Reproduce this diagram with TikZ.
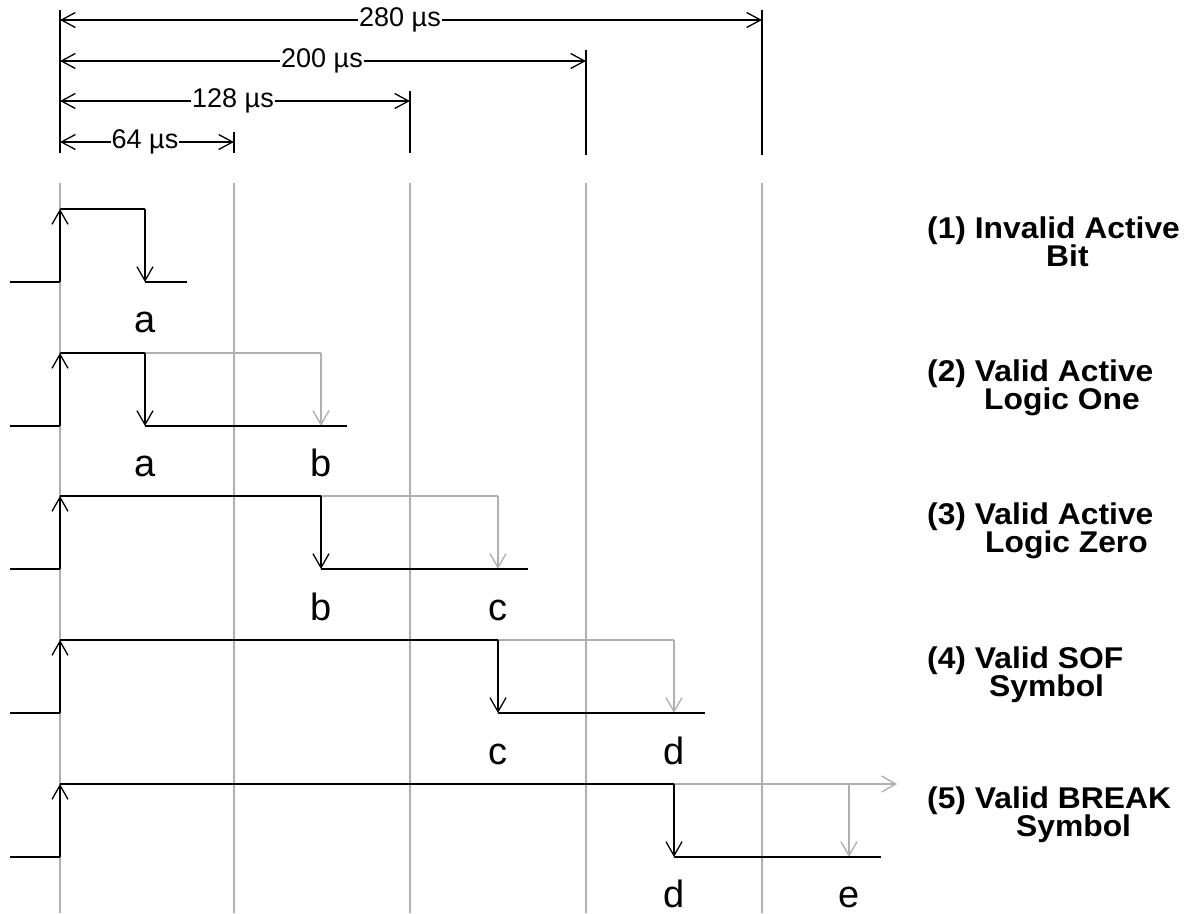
\documentclass[tikz,border=0pt]{standalone}
\usepackage{fontspec}
\usepackage{graphicx}
\setmainfont{Liberation Sans}
\usetikzlibrary{arrows.meta}
\definecolor{gridgray}{RGB}{176,176,176}
\newcommand{\captxt}[1]{\scalebox{1.06}[1]{#1}}
\newcommand{\indentby}[1]{\hbox to #1{}}
\tikzset{
  wire/.style={line width=1.3pt, black},
  ghost/.style={line width=1.4pt, gridgray},
  tip/.style={-{Straight Barb[length=14pt,width=16pt,line width=1.3pt]}},
  gtip/.style={-{Straight Barb[length=14pt,width=16pt,line width=1.4pt]}},
  dimline/.style={line width=1.3pt, black, {Straight Barb[length=14pt,width=15pt,line width=1.3pt]}-{Straight Barb[length=14pt,width=15pt,line width=1.3pt]}},
  dimtext/.style={fill=white, inner sep=1pt, font=\fontsize{27}{30}\selectfont},
  letter/.style={anchor=base, inner sep=0pt, font=\fontsize{38}{40}\selectfont},
  caption/.style={anchor=north west, inner sep=0pt, align=left,
    font=\fontsize{30}{28}\selectfont\bfseries},
}
\begin{document}
\begin{tikzpicture}[x=1pt,y=-1pt]
\useasboundingbox (0,0) rectangle (1194,913);
% grid lines
\foreach \gx in {60,234,410,586,762}{
  \draw[ghost] (\gx,183) -- (\gx,913);
}
% ticks
\draw[wire] (60,10) -- (60,153);
\draw[wire] (234,132) -- (234,153);
\draw[wire] (410,91) -- (410,153);
\draw[wire] (586,50) -- (586,155);
\draw[wire] (762,10) -- (762,155);
% dimensions
\coordinate (d0a) at (60,20);  \coordinate (d0b) at (762,20);
\coordinate (d1a) at (60,61);  \coordinate (d1b) at (586,61);
\coordinate (d2a) at (60,101); \coordinate (d2b) at (410,101);
\coordinate (d3a) at (60,142); \coordinate (d3b) at (234,142);
\draw[dimline] (d0a) -- (d0b);
\draw[dimline] (d1a) -- (d1b);
\draw[dimline] (d2a) -- (d2b);
\draw[dimline] (d3a) -- (d3b);
\node[dimtext] (t280) at (400,20) {280 µs};
\node[dimtext] (t200) at (322,61) {200 µs};
\node[dimtext] (t128) at (233,101) {128 µs};
\node[dimtext] (t64)  at (145,142) {64 µs};
% waveform 1
\def\H{209}\def\L{282}
\draw[wire] (10,\L) -- (60,\L);
\draw[wire,tip] (60,\L) -- (60,\H);
\draw[wire] (60,\H) -- (145,\H);
\draw[wire,tip] (145,\H) -- (145,\L);
\draw[wire] (145,\L) -- (187,\L);
\node[letter] (la1) at (145,332) {a};
% waveform 2
\def\H{353}\def\L{426}
\draw[ghost] (145,\H) -- (321,\H);
\draw[ghost,gtip] (321,\H) -- (321,\L);
\draw[wire] (10,\L) -- (60,\L);
\draw[wire,tip] (60,\L) -- (60,\H);
\draw[wire] (60,\H) -- (145,\H);
\draw[wire,tip] (145,\H) -- (145,\L);
\draw[wire] (145,\L) -- (347,\L);
\node[letter] (la2) at (145,476) {a};
\node[letter] (lb2) at (321,476) {b};
% waveform 3
\def\H{496}\def\L{569}
\draw[ghost] (321,\H) -- (498,\H);
\draw[ghost,gtip] (498,\H) -- (498,\L);
\draw[wire] (10,\L) -- (60,\L);
\draw[wire,tip] (60,\L) -- (60,\H);
\draw[wire] (60,\H) -- (321,\H);
\draw[wire,tip] (321,\H) -- (321,\L);
\draw[wire] (321,\L) -- (528,\L);
\node[letter] (lb3) at (321,620) {b};
\node[letter] (lc3) at (498,620) {c};
% waveform 4
\def\H{640}\def\L{713}
\draw[ghost] (498,\H) -- (674,\H);
\draw[ghost,gtip] (674,\H) -- (674,\L);
\draw[wire] (10,\L) -- (60,\L);
\draw[wire,tip] (60,\L) -- (60,\H);
\draw[wire] (60,\H) -- (498,\H);
\draw[wire,tip] (498,\H) -- (498,\L);
\draw[wire] (498,\L) -- (705,\L);
\node[letter] (lc4) at (498,764) {c};
\node[letter] (ld4) at (674,764) {d};
% waveform 5
\def\H{784}\def\L{857}
\draw[ghost,gtip] (674,\H) -- (897,\H);
\draw[ghost,gtip] (849,\H) -- (849,\L);
\draw[wire] (10,\L) -- (60,\L);
\draw[wire,tip] (60,\L) -- (60,\H);
\draw[wire] (60,\H) -- (674,\H);
\draw[wire,tip] (674,\H) -- (674,\L);
\draw[wire] (674,\L) -- (881,\L);
\node[letter] (ld5) at (674,907) {d};
\node[letter] (le5) at (849,907) {e};
% captions
\node[caption] (c1) at (927,217) {\captxt{(1) Invalid Active}\\\indentby{119pt}\captxt{Bit}};
\node[caption] (c2) at (927,360) {\captxt{(2) Valid Active}\\\indentby{57pt}\captxt{Logic One}};
\node[caption] (c3) at (927,503) {\captxt{(3) Valid Active}\\\indentby{58pt}\captxt{Logic Zero}};
\node[caption] (c4) at (927,647) {\captxt{(4) Valid SOF}\\\indentby{62pt}\captxt{Symbol}};
\node[caption] (c5) at (927,787) {\captxt{(5) Valid BREAK}\\\indentby{89pt}\captxt{Symbol}};
\end{tikzpicture}
\end{document}
